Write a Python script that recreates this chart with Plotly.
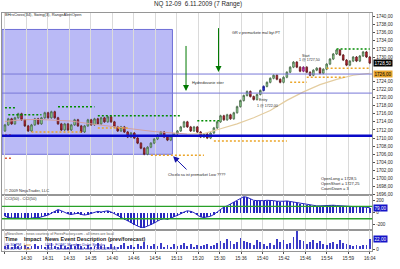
import plotly.graph_objects as go
from plotly.subplots import make_subplots

# ---------------- data ----------------
title_text = "NQ 12-09  6.11.2009 (7 Range)"
time_labels = ["14:28", "14:30", "14:31", "14:33", "14:35", "14:40", "14:46", "14:54", "15:13",
               "15:20", "15:30", "15:36", "15:40", "15:42", "15:46", "15:54", "15:59", "16:04"]

first_open = 1711.75
closes = [
    1713.25, 1714.75, 1713.5, 1715.0, 1716.0, 1714.5, 1713.0, 1711.75, 1713.25, 1714.75,
    1713.5, 1715.0, 1716.25, 1715.0, 1716.5, 1715.0, 1713.5, 1712.0, 1713.5, 1712.0,
    1713.25, 1714.5, 1713.0, 1711.5, 1713.0, 1714.5, 1713.25, 1714.75, 1713.5, 1715.0,
    1714.0, 1715.25, 1714.0, 1712.75, 1711.75, 1712.75, 1711.5, 1710.25, 1711.25, 1710.0,
    1708.75, 1707.5, 1706.0, 1707.75, 1708.75, 1709.75, 1710.75, 1711.5, 1710.25, 1709.5,
    1710.5, 1711.0, 1711.75, 1712.75, 1714.0, 1712.75, 1711.75, 1712.75, 1711.5, 1710.25,
    1711.0, 1710.0, 1711.25, 1712.5, 1714.0, 1715.5, 1714.5, 1715.75, 1714.75, 1716.25,
    1717.75, 1719.25, 1720.5, 1721.5, 1720.25, 1719.5, 1720.75, 1721.75, 1722.75, 1723.75,
    1724.75, 1725.5, 1724.5, 1723.75, 1725.0, 1726.25, 1727.5, 1728.75, 1727.5, 1726.5,
    1727.5, 1726.25, 1725.5, 1726.75, 1727.25, 1726.0, 1727.0, 1728.25, 1729.5, 1730.75,
    1731.75, 1730.5, 1729.25, 1728.0, 1729.0, 1730.0, 1729.0, 1730.25, 1731.25, 1730.0,
    1728.5]
wick = 0.25
entry_bar = 78
start_bar = 90

cci = [-60, -80, -90, -85,
       -90, -100, -95, -100, -90, -80, -85, -70, -60, -40, -10, 20,
       50,
       30, 0, -20, -30, -20, -10, -30, -40,
       -30, -10, 10, 20, 10, 20, 30, 10,
       -20, -50, -80, -110, -140, -170, -200, -220, -240, -240, -220,
       -200, -170, -140, -110, -100, -110, -90, -70, -50, -20, 10, 30, 20,
       0, -40, -70, -80, -70, -60,
       -30, 10, 60, 90, 110, 140, 170, 200, 230, 260, 250,
       220, 200, 195, 190, 195, 200, 200, 195, 185, 180, 185, 190, 180, 170, 165,
       150, 140, 130, 120, 115, 110, 110, 115, 120, 125, 120,
       115, 110, 105, 100, 100, 95, 95, 100, 95, 85, 79]

volume = [7, 9, 5, 11, 7, 6, 9, 4, 7, 11,
          6, 8, 5, 9, 13, 7, 5, 9, 6, 4,
          8, 6, 11, 7, 5, 9, 4, 7, 13, 6,
          9, 5, 11, 7, 4, 8, 13, 6, 9, 5,
          11, 7, 15, 9, 6, 11, 7, 13, 5, 9,
          4, 11, 7, 9, 13, 6, 11, 5, 9, 7,
          9, 11, 7, 9, 13, 18, 13, 22, 18, 11,
          15, 24, 18, 15, 13, 9, 20, 15, 11, 7,
          13, 9, 22, 15, 20, 11, 13, 26, 40, 20,
          18, 11, 15, 20, 13, 18, 11, 9, 13, 15,
          11, 20, 13, 11, 9, 7, 9, 7, 9, 9, 22]

# moving average (bar index, value)
ma_idx = [0, 5, 10, 15, 20, 25, 30, 35, 40, 45, 50, 55, 60, 65, 70, 75, 80, 85, 90, 95, 100, 105, 110]
ma_vals = [1714.1, 1714.5, 1714.6, 1714.4, 1714.2, 1713.6, 1713.1, 1712.7, 1712.2, 1711.6, 1711.3,
           1711.0, 1711.1, 1712.3, 1713.5, 1715.0, 1716.8, 1719.3, 1721.4, 1723.2, 1724.5, 1725.5, 1726.0]

# swing lines (start bar, end bar, price)
swing_highs = [(0, 3, 1717.5), (1, 11, 1715.75), (16, 27, 1717.75), (28, 53, 1715.5),
               (58, 65, 1714.25), (100, 110, 1732.0)]
swing_lows = [(8, 23, 1711.5), (28, 37, 1712.5), (44, 60, 1705.75), (63, 85, 1709.25),
              (86, 91, 1723.75), (91, 103, 1725.0), (97, 110, 1727.25)]
old_lows = [(0, 2, 1705.0), (0, 2, 1710.75)]

# price-axis ticks (the two hidden ones sit under the value boxes)
price_ticks = [p for p in range(1696, 1741, 2) if p not in (1726, 1728)]

# drawn objects
zone_bars = (-0.9, 50.5)
zone_prices = (1706.0, 1736.8)
hlines_thin = [1725.8, 1721.1]
hline_thick = 1710.6

news_rows = [("05:30 PM", "Low", "USD: FOMC Member Duke Speaks"),
             ("09:00 PM", "Low", "USD: Consumer Credit m/m (-10.0B/-9.9B)")]

# ---------------- figure ----------------
W, H = 400, 269
def py(y):
    return 1 - y / H

n = len(closes)
idx = list(range(n))
opens = [first_open] + closes[:-1]
highs = [max(o, c) + wick for o, c in zip(opens, closes)]
lows = [min(o, c) - wick for o, c in zip(opens, closes)]

fig = make_subplots(rows=3, cols=1, shared_xaxes=True, vertical_spacing=0)

FONT = "Liberation Sans"
GRID = "rgb(218,218,218)"
FRAME = "rgb(150,150,150)"

# zone rectangle + lines (below)
fig.add_shape(type="rect", xref="x", yref="y", x0=zone_bars[0], x1=zone_bars[1],
              y0=zone_prices[0], y1=zone_prices[1], layer="below",
              fillcolor="rgb(186,186,246)", line=dict(color="rgb(110,110,215)", width=1))
for lv in hlines_thin:
    fig.add_shape(type="line", xref="x", yref="y", x0=zone_bars[0], x1=110.75, y0=lv, y1=lv,
                  line=dict(color="rgb(120,120,215)", width=1))
fig.add_shape(type="line", xref="x", yref="y", x0=zone_bars[0], x1=110.75, y0=hline_thick, y1=hline_thick,
              line=dict(color="rgb(10,10,200)", width=2.5))

# moving average
split = 11
fig.add_trace(go.Scatter(x=ma_idx[:split + 1], y=ma_vals[:split + 1], mode="lines",
                         line=dict(color="rgb(210,160,160)", width=1), hoverinfo="skip"), row=1, col=1)
fig.add_trace(go.Scatter(x=ma_idx[split:], y=ma_vals[split:], mode="lines",
                         line=dict(color="rgb(228,205,160)", width=1.2), hoverinfo="skip"), row=1, col=1)

# swing dotted lines
def add_swing(segs, color):
    for a, b, p in segs:
        fig.add_trace(go.Scatter(x=[a, b], y=[p, p], mode="lines",
                                 line=dict(color=color, width=1.5, dash="2px,2px"),
                                 hoverinfo="skip"), row=1, col=1)
add_swing(swing_highs, "rgb(0,140,0)")
add_swing(swing_lows, "rgb(235,165,40)")
add_swing(old_lows, "rgb(220,90,60)")

# candles
normal = [i for i in idx if i not in (entry_bar, start_bar)]
def candle(sel, inc_fill, inc_line, dec_fill, dec_line):
    fig.add_trace(go.Candlestick(
        x=sel, open=[opens[i] for i in sel], high=[highs[i] for i in sel],
        low=[lows[i] for i in sel], close=[closes[i] for i in sel],
        increasing=dict(fillcolor=inc_fill, line=dict(color=inc_line, width=0.8)),
        decreasing=dict(fillcolor=dec_fill, line=dict(color=dec_line, width=0.8)),
        whiskerwidth=0, hoverinfo="skip"), row=1, col=1)
candle(normal, "rgb(150,225,150)", "rgb(70,100,70)", "rgb(205,25,45)", "rgb(90,30,30)")
candle([entry_bar], "rgb(40,60,230)", "rgb(20,20,140)", "rgb(40,60,230)", "rgb(20,20,140)")
candle([start_bar], "rgb(225,60,200)", "rgb(120,20,110)", "rgb(225,60,200)", "rgb(120,20,110)")

# CCI
fig.add_trace(go.Bar(x=idx, y=cci, width=0.22, marker=dict(color="rgb(40,40,190)", line=dict(width=0)),
                     hoverinfo="skip"), row=2, col=1)
fig.add_trace(go.Scatter(x=idx, y=cci, mode="lines", line=dict(color="rgb(40,40,190)", width=1),
                         hoverinfo="skip"), row=2, col=1)
for lv in (100, -100):
    fig.add_shape(type="line", xref="x2 domain", yref="y2", x0=0, x1=1, y0=lv, y1=lv,
                  line=dict(color="rgb(40,160,40)", width=1.3))

# Volume
fig.add_trace(go.Bar(x=idx, y=volume, width=0.25, marker=dict(color="rgb(60,60,200)", line=dict(width=0)),
                     hoverinfo="skip"), row=3, col=1)

tickvals = [k * (n - 1) / (len(time_labels) - 1) for k in range(len(time_labels))]
xr = [-0.9, 110.75]
for k in (1, 2, 3):
    fig.update_xaxes(row=k, col=1, domain=[0.005, 0.94], range=xr, tickvals=tickvals,
                     ticktext=time_labels, showgrid=True, gridcolor=GRID, gridwidth=1,
                     zeroline=False, showline=True, linecolor=FRAME, linewidth=1, mirror=True,
                     showticklabels=(k == 3), ticks="outside" if k == 3 else "", ticklen=2,
                     tickcolor="rgb(80,80,80)",
                     tickfont=dict(family=FONT, size=4.6, color="rgb(40,40,40)"),
                     rangeslider=dict(visible=False), fixedrange=True)

yfont = dict(family=FONT, size=4.6, color="rgb(40,40,40)")
fig.update_yaxes(row=1, col=1, domain=[py(197), py(13)], range=[1696.0, 1740.9], side="right",
                 tickvals=price_ticks, tickformat=".2f", ticks="outside", ticklen=2,
                 tickcolor="rgb(80,80,80)", tickfont=yfont, showgrid=False, zeroline=False,
                 showline=True, linecolor=FRAME, mirror=True)
fig.update_yaxes(row=2, col=1, domain=[py(233), py(197)], range=[-290, 290], side="right",
                 tickvals=[-200, 0, 200], ticktext=["-200", "0", "200"], ticks="outside", ticklen=2,
                 tickcolor="rgb(80,80,80)", tickfont=yfont, showgrid=False, zeroline=False,
                 showline=True, linecolor=FRAME, mirror=True)
fig.update_yaxes(row=3, col=1, domain=[py(254), py(233)], range=[-4.4, 41.8], side="right",
                 tickvals=[0], ticktext=["0"], ticks="outside", ticklen=2,
                 tickcolor="rgb(80,80,80)", tickfont=yfont, showgrid=False, zeroline=False,
                 showline=True, linecolor=FRAME, mirror=True)

ann = []
def text(x, y, s, size=4.2, color="rgb(40,40,40)", xanchor="left", xref="paper", yref="paper",
         bg=None, bold=False):
    if bold:
        s = "<b>" + s + "</b>"
    d = dict(x=x, y=y, xref=xref, yref=yref, text=s, showarrow=False, xanchor=xanchor, yanchor="middle",
             font=dict(family=FONT, size=size, color=color))
    if bg:
        d.update(bgcolor=bg, borderpad=0.5)
    ann.append(d)

text(0.5, py(4.5), title_text, size=6.3, xanchor="center")
text(3 / W, py(15), "BHrsCross(34), Swing(3), RangeAlertOpen", size=4.0)
text(3 / W, py(193), "© 2009 NinjaTrader, LLC", size=4.0)
text(322 / W, py(181), "OpenLong = 1728,5", size=4.0)
text(322 / W, py(186), "OpenShort = 1727,25", size=4.0)
text(322 / W, py(191), "CountDown = 3", size=4.0)
text(3 / W, py(201), "CCI(50) - CCI(50)", size=4.0)

# news table
text(3 / W, py(236.6), "gNewsItem - news courtesy of ForexFactory.com - all times are local", size=3.6,
     color="rgb(90,90,90)")
text(3 / W, py(241.8), "Time", size=5.4, bold=True, color="rgb(30,30,30)")
text(22 / W, py(241.8), "Impact", size=5.4, bold=True, color="rgb(30,30,30)")
text(43 / W, py(241.8), "News Event Description (prev/forecast)", size=5.4, bold=True, color="rgb(30,30,30)")
for r, (t, imp, desc) in enumerate(news_rows):
    yy = py(247.5 + 4.0 * r)
    text(3 / W, yy, t, size=3.8, color="rgb(30,30,170)")
    text(22 / W, yy, imp, size=3.8, color="rgb(200,120,0)")
    text(43 / W, yy, desc, size=3.8, color="rgb(30,30,170)")

# chart notes
text(67.8, 1736.0, "GR v premarkete mal byt PT", size=3.8, xref="x", yref="y")
text(55.8, 1723.5, "Hydredovanie stier", size=3.8, xref="x", yref="y")
text(57.9, 1700.9, "Chcelo sa ist premarket Low ????", size=3.8, xanchor="center", xref="x", yref="y")
text(76.0, 1719.4, "Entry", size=3.6, xref="x", yref="y")
text(75.5, 1717.9, "1 @ 1722,00", size=3.6, xref="x", yref="y")
text(89.0, 1730.3, "Start", size=3.6, xref="x", yref="y")
text(88.0, 1729.2, "1 @ 1727,50", size=3.6, xref="x", yref="y")

# arrows
for (xh, yh, yt) in [(54.6, 1721.6, 1733.1), (64.4, 1726.3, 1737.5)]:
    ann.append(dict(x=xh, y=yh, ax=xh, ay=yt, xref="x", yref="y", axref="x", ayref="y", text="",
                    showarrow=True, arrowhead=2, arrowsize=1.2, arrowwidth=1, arrowcolor="rgb(0,120,0)"))
ann.append(dict(x=50.7, y=1705.5, ax=55.2, ay=1701.9, xref="x", yref="y", axref="x", ayref="y", text="",
                showarrow=True, arrowhead=2, arrowsize=1.2, arrowwidth=1, arrowcolor="rgb(20,20,170)"))

# value labels on the right axis
def fmt(v):
    return f"{v:.2f}".replace(".", ",")
text(377 / W, closes[-1], fmt(closes[-1]), size=4.6, color="white", xref="paper", yref="y", bg="black")
text(377 / W, ma_vals[-1] - 0.3, fmt(ma_vals[-1]), size=4.6, color="black", xref="paper", yref="y",
     bg="rgb(232,165,45)")
text(377 / W, cci[-1], fmt(cci[-1]), size=4.6, color="white", xref="paper", yref="y2", bg="rgb(20,20,200)")
text(377 / W, volume[-1], fmt(volume[-1]), size=4.6, color="white", xref="paper", yref="y3",
     bg="rgb(20,20,200)")

fig.update_layout(width=W, height=H, margin=dict(l=0, r=0, t=0, b=0), showlegend=False,
                  paper_bgcolor="white", plot_bgcolor="white", separators=",.",
                  annotations=ann, barmode="overlay", bargap=0,
                  font=dict(family=FONT))

fig.write_html("out.html")
